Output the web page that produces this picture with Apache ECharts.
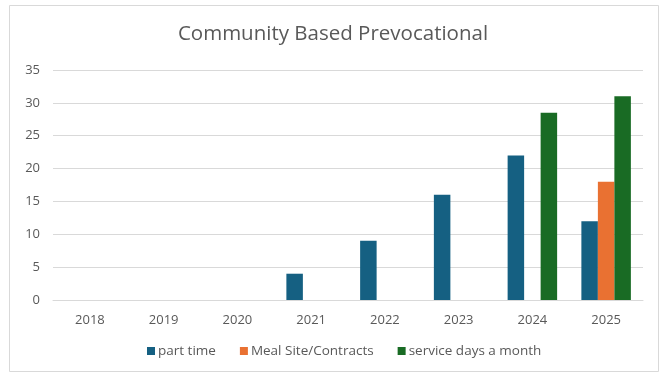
<!DOCTYPE html>
<html>
<head>
<meta charset="utf-8">
<script src="https://cdn.jsdelivr.net/npm/echarts@6/dist/echarts.min.js"></script>
<style>
  html, body { margin: 0; padding: 0; background: #fff; }
  #chart { width: 666px; height: 378px; }
</style>
</head>
<body>
<div id="chart"></div>
<script>
// Years shown on the category axis
const years = ['2018', '2019', '2020', '2021', '2022', '2023', '2024', '2025'];

// Series values (null = no bar for that year)
const partTime = [null, null, null, 4, 9, 16, 22, 12];
const mealSiteContracts = [null, null, null, null, null, null, null, 18];
const serviceDaysAMonth = [null, null, null, null, null, null, 28.5, 31];

const seriesNames = ['part time', 'Meal Site/Contracts', 'service days a month'];
const seriesColors = ['#156082', '#E97132', '#196B24'];

const chart = echarts.init(document.getElementById('chart'), null, { renderer: 'canvas' });

const textColor = '#595959';
const fontFamily = '"Open Sans", "Noto Sans", sans-serif';

function barSeries(name, data, color) {
  return {
    name: name,
    type: 'bar',
    data: data,
    barWidth: 16.5,
    barGap: '0%',
    itemStyle: { color: color },
    emphasis: { disabled: true }
  };
}

chart.setOption({
  animation: false,
  backgroundColor: '#ffffff',
  title: {
    text: 'Community Based Prevocational',
    left: 'center',
    top: 19,
    textStyle: { color: textColor, fontSize: 20.5, fontWeight: 'normal', fontFamily: fontFamily }
  },
  legend: {
    bottom: 15,
    left: 142,
    itemWidth: 8,
    itemHeight: 8,
    itemGap: 24,
    icon: 'rect',
    textStyle: { color: textColor, fontSize: 13.5, fontFamily: fontFamily, padding: [0, 0, 0, -2] },
    data: seriesNames
  },
  grid: { left: 53, right: 23, top: 70, bottom: 78, containLabel: false },
  xAxis: {
    type: 'category',
    data: years,
    axisLine: { lineStyle: { color: '#d9d9d9', width: 1 } },
    axisTick: { show: false },
    axisLabel: { color: textColor, fontSize: 13, fontFamily: fontFamily, margin: 14 }
  },
  yAxis: {
    type: 'value',
    min: 0,
    max: 35,
    interval: 5,
    axisLine: { show: false },
    axisTick: { show: false },
    axisLabel: { color: textColor, fontSize: 13, fontFamily: fontFamily, margin: 13 },
    splitLine: { lineStyle: { color: '#d9d9d9', width: 1 } }
  },
  series: [
    barSeries(seriesNames[0], partTime, seriesColors[0]),
    barSeries(seriesNames[1], mealSiteContracts, seriesColors[1]),
    barSeries(seriesNames[2], serviceDaysAMonth, seriesColors[2])
  ],
  graphic: [{
    type: 'rect',
    shape: { x: 9.5, y: 5.5, width: 649, height: 366 },
    style: { fill: 'none', stroke: '#d9d9d9', lineWidth: 1 },
    silent: true,
    z: -1
  }]
});
</script>
</body>
</html>
